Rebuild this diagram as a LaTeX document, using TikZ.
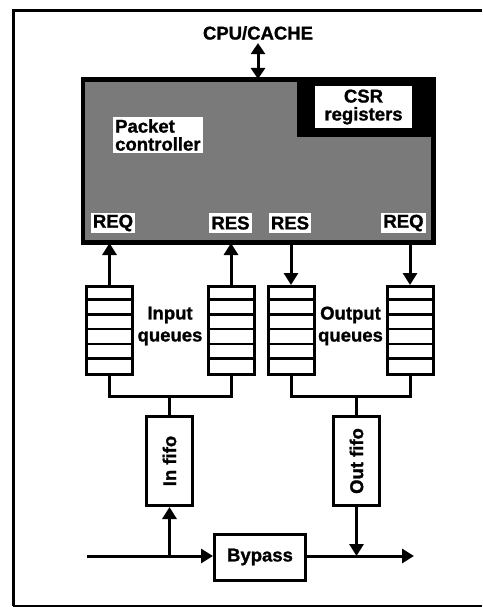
\documentclass[tikz,border=0pt]{standalone}
\usepackage{fontspec}
\setmainfont{Liberation Sans}[BoldFeatures={FakeBold=1.2}]
\usetikzlibrary{arrows.meta}
\tikzset{
  lbl/.style={font=\bfseries\fontsize{18.5}{18}\selectfont, inner sep=0pt},
  whitelbl/.style={lbl, fill=white, inner sep=2pt},
  conn/.style={line width=3pt},
  arr/.style={conn, -{Triangle[length=12pt,width=14pt]}},
  darr/.style={conn, {Triangle[length=11pt,width=14pt]}-{Triangle[length=11pt,width=14pt]}},
  queue/.style={draw, line width=3pt, minimum width=46pt, minimum height=88pt, inner sep=0pt},
  boxn/.style={draw, line width=3pt, inner sep=0pt},
}
\begin{document}
\begin{tikzpicture}[x=1pt,y=-1pt]
\useasboundingbox (0,0) rectangle (482,607);
% frame
\draw[line width=3pt] (482,11) -- (13,11) -- (13,606);
\draw[line width=1.5pt] (13,606) -- (482,606);
% CPU
\node[lbl] (cpu) at (258,33) {CPU/CACHE};
% packet controller
\node[boxn, fill=black!52, minimum width=349pt, minimum height=161pt] (pc) at (258,161) {};
\fill[black] (297,79) rectangle (434,137);
\draw[line width=3pt] (pc.south west) rectangle (pc.north east);
\node[whitelbl, minimum width=97pt, minimum height=42pt, align=center] (csr) at (363.5,107) {CSR\\registers};
\node[whitelbl, align=left, anchor=north west] (pcl) at (113,117) {Packet\\controller};
\node[whitelbl, minimum height=20pt] (req1) at (113,223) {REQ};
\node[whitelbl, minimum height=20pt] (res1) at (230.5,223) {RES};
\node[whitelbl, minimum height=20pt] (res2) at (290,223) {RES};
\node[whitelbl, minimum height=20pt] (req2) at (403.5,223) {REQ};
\draw[darr] (cpu.south -| pc.north) ++(0,3) coordinate (cputop) -- (pc.north);
% queues
\foreach \n/\x in {q1/109.5, q2/231, q3/291, q4/410}{
  \node[queue] (\n) at (\x,330.5) {};
  \foreach \k in {1,...,5}{
    \draw[line width=2.5pt] ([yshift=-\k*14.7pt]\n.north west) -- ([yshift=-\k*14.7pt]\n.north east);
  }
}
% arrows to/from controller
\draw[arr] (q1.north) -- (q1.north |- pc.south);
\draw[arr] (q2.north) -- (q2.north |- pc.south);
\draw[arr] (q3.north |- pc.south) -- (q3.north);
\draw[arr] (q4.north |- pc.south) -- (q4.north);
% labels of queues
\node[lbl, align=center, font=\bfseries\fontsize{18.5}{22}\selectfont] (inq) at (170,326) {Input\\queues};
\node[lbl, align=center, font=\bfseries\fontsize{18.5}{22}\selectfont] (outq) at (350.5,326) {Output\\queues};
% fifos
\node[boxn, minimum width=46pt, minimum height=89pt] (infifo) at (169.5,461) {};
\node[lbl, rotate=90] (infifot) at (infifo.center) {In fifo};
\node[boxn, minimum width=46pt, minimum height=89pt] (outfifo) at (356.5,461) {};
\node[lbl, rotate=90] (outfifot) at (outfifo.center) {Out fifo};
% merges
\coordinate (inj) at (169.5,396);
\coordinate (outj) at (356.5,396);
\draw[conn] (q1.south) -- (q1.south |- inj) -- (q2.south |- inj) -- (q2.south);
\draw[conn] (inj) -- (infifo.north);
\draw[conn] (q3.south) -- (q3.south |- outj) -- (q4.south |- outj) -- (q4.south);
\draw[conn] (outj) -- (outfifo.north);
% bypass
\node[boxn, lbl, draw, line width=3pt, minimum width=91pt, minimum height=46pt] (bypass) at (260,557) {Bypass};
\coordinate (start) at (87,556);
\coordinate (inbr) at (169.5,556);
\coordinate (outbr) at (356.5,556);
\coordinate (end) at (414,556);
\draw[arr] (start) -- (bypass.west |- start);
\draw[arr] (inbr) -- (infifo.south);
\draw[arr] (outfifo.south) -- (outbr);
\draw[arr] (bypass.east |- end) -- (end);
\end{tikzpicture}
\end{document}
